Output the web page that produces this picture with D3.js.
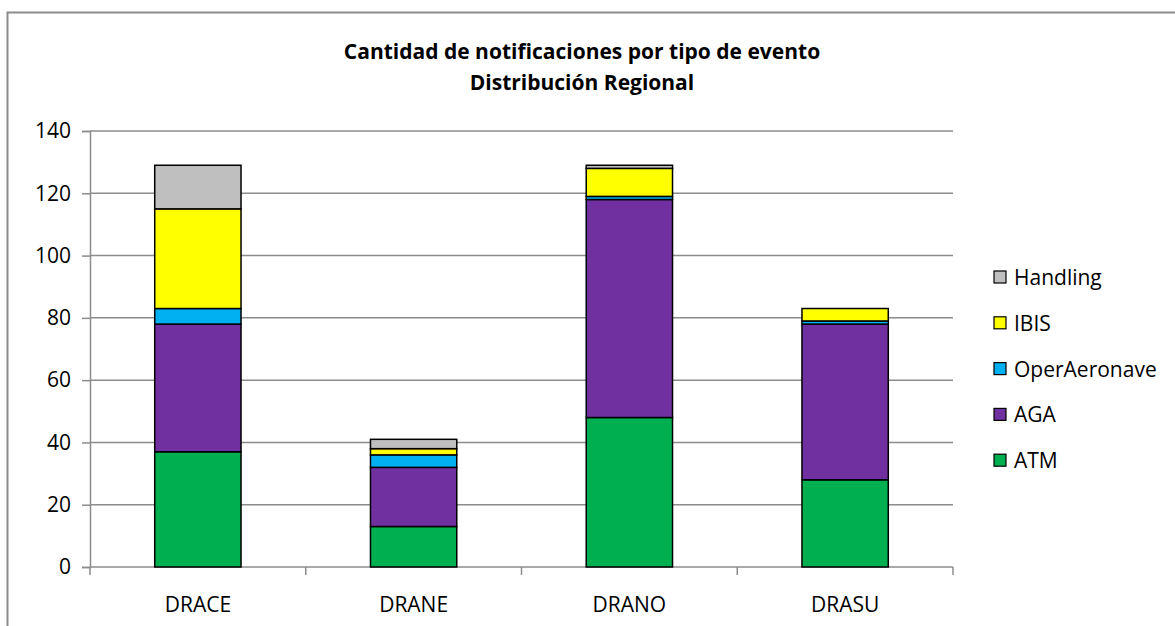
<!DOCTYPE html>
<html>
<head>
<meta charset="utf-8">
<script src="https://cdn.jsdelivr.net/npm/d3@7"></script>
<style>
  body { margin: 0; background: #fff; }
  text { font-family: "Open Sans", Lato, sans-serif; }
</style>
</head>
<body>
<div id="chart"></div>
<script>
// data
var regions = ["DRACE", "DRANE", "DRANO", "DRASU"];
var seriesNames = ["ATM", "AGA", "OperAeronave", "IBIS", "Handling"];
var atm = [37, 13, 48, 28];
var aga = [41, 19, 70, 50];
var operAeronave = [5, 4, 1, 1];
var ibis = [32, 2, 9, 4];
var handling = [14, 3, 1, 0];
var yTicks = [0, 20, 40, 60, 80, 100, 120, 140];

var colors = {
    ATM: "#00b050",
    AGA: "#7030a0",
    OperAeronave: "#00b0f0",
    IBIS: "#ffff00",
    Handling: "#bfbfbf"
};

var w = 1175, h = 626;
var plotL = 90, plotR = 953, plotT = 131, plotB = 567;   // plot area

// build table for d3.stack
var rows = regions.map((r, i) => ({
    region: r,
    ATM: atm[i],
    AGA: aga[i],
    OperAeronave: operAeronave[i],
    IBIS: ibis[i],
    Handling: handling[i]
}));
var stacked = d3.stack().keys(seriesNames)(rows);

var svg = d3.select("#chart").append("svg")
    .attr("width", w)
    .attr("height", h);

// outer frame (only top + left visible)
svg.append("path")
    .attr("d", "M7.5," + h + "V12.5H" + w)
    .attr("fill", "none")
    .attr("stroke", "#8c8c8c")
    .attr("stroke-width", 2);

var x = d3.scaleBand().domain(regions).range([plotL, plotR]).paddingInner(0.6).paddingOuter(0.3);
var xTickScale = d3.scaleBand().domain(regions).range([plotL, plotR]);
var y = d3.scaleLinear().domain([0, 140]).range([plotB, plotT]);

// gridlines
svg.append("g")
    .selectAll("line")
    .data(yTicks.slice(1))
    .enter()
    .append("line")
    .attr("x1", plotL).attr("x2", plotR)
    .attr("y1", d => y(d)).attr("y2", d => y(d))
    .attr("stroke", "#8c8c8c")
    .attr("stroke-width", 1.5);

// y axis
var gY = svg.append("g")
    .attr("transform", "translate(" + plotL + ",0)")
    .call(d3.axisLeft(y).tickValues(yTicks).tickSize(8).tickPadding(11));
gY.select(".domain").attr("stroke", "#8c8c8c").attr("stroke-width", 1.5);
gY.selectAll(".tick line").attr("stroke", "#8c8c8c").attr("stroke-width", 1.5);
gY.selectAll("text").attr("font-size", 21).attr("fill", "#000")
    .style("font-family", "'Open Sans', sans-serif");

// x axis (ticks between categories)
var gX = svg.append("g")
    .attr("transform", "translate(0," + plotB + ")");
gX.append("line")
    .attr("x1", plotL).attr("x2", plotR)
    .attr("stroke", "#8c8c8c").attr("stroke-width", 1.5);
gX.selectAll(".sep")
    .data(regions.concat(["end"]))
    .enter()
    .append("line")
    .attr("x1", (d, i) => plotL + i * xTickScale.bandwidth())
    .attr("x2", (d, i) => plotL + i * xTickScale.bandwidth())
    .attr("y1", 0).attr("y2", 8)
    .attr("stroke", "#8c8c8c").attr("stroke-width", 1.5);
gX.selectAll(".lbl")
    .data(regions)
    .enter()
    .append("text")
    .attr("x", d => xTickScale(d) + xTickScale.bandwidth() / 2)
    .attr("y", 45)
    .attr("text-anchor", "middle")
    .attr("font-size", 21)
    .text(d => d);

// stacked bars
svg.append("g")
    .selectAll("g")
    .data(stacked)
    .enter()
    .append("g")
    .attr("fill", d => colors[d.key])
    .selectAll("rect")
    .data(d => d.filter(p => p[1] > p[0]))
    .enter()
    .append("rect")
    .attr("x", d => x(d.data.region))
    .attr("width", x.bandwidth())
    .attr("y", d => y(d[1]))
    .attr("height", d => y(d[0]) - y(d[1]))
    .attr("stroke", "#000")
    .attr("stroke-width", 1.5);

// title
var title = svg.append("text")
    .attr("text-anchor", "middle")
    .attr("font-size", 21)
    .attr("font-weight", "bold");
title.append("tspan").attr("x", 582).attr("y", 59).text("Cantidad de notificaciones por tipo de evento");
title.append("tspan").attr("x", 582).attr("y", 90).text("Distribución Regional");

// legend (reverse order, Handling on top)
var legend = svg.append("g")
    .selectAll("g")
    .data(seriesNames.slice().reverse())
    .enter()
    .append("g")
    .attr("transform", (d, i) => "translate(994," + (277 + i * 45.8) + ")");
legend.append("rect")
    .attr("x", 0).attr("y", -6)
    .attr("width", 12).attr("height", 12)
    .attr("fill", d => colors[d])
    .attr("stroke", "#000")
    .attr("stroke-width", 1.2);
legend.append("text")
    .attr("x", 20).attr("y", 8)
    .attr("font-size", 21)
    .text(d => d);
</script>
</body>
</html>
